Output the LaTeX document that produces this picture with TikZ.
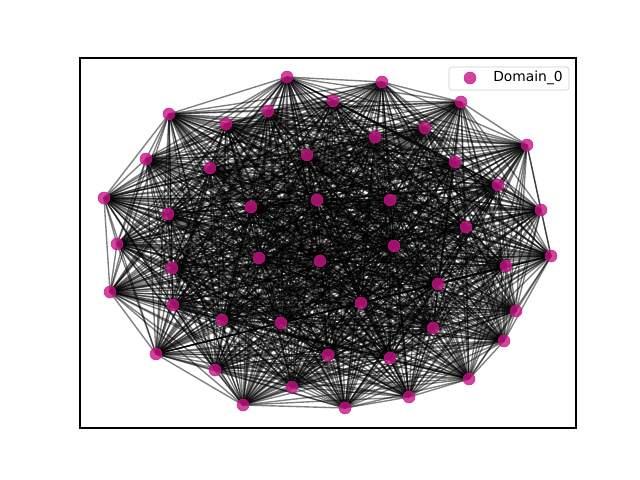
\documentclass[tikz,border=0pt]{standalone}
\usepackage{fontspec}
\setmainfont{DejaVu Sans}
\usepackage{xcolor}
\usepackage{tikz}
\usetikzlibrary{positioning}
\definecolor{domainPink}{RGB}{199,21,133}
\tikzset{
  domainNode/.style={circle,fill=domainPink,draw=domainPink,fill opacity=.8,draw opacity=.8,inner sep=0pt,minimum size=.12in},
  graphEdge/.style={draw=black,draw opacity=.5,line width=1pt}
}
\begin{document}
\begin{tikzpicture}[x=0.01in,y=-0.01in]
  \useasboundingbox (0,0) rectangle (640,480);
  % nodes of Domain_0 (positions in pixels)
  \foreach \name/\px/\py in {
      1/287/77, 2/382/82, 3/333/101, 4/461/102, 5/169/114, 6/268/111,
      7/226/124, 8/425/128, 9/375/137, 10/527/145, 11/307/155, 12/146/159,
      13/455/162, 14/210/168, 15/498/185, 16/104/198, 17/317/200, 18/390/200,
      19/251/207, 20/168/214, 21/541/210, 22/466/227, 23/117/244, 24/394/246,
      25/551/256, 26/259/258, 27/320/261, 28/172/268, 29/506/266, 30/438/284,
      31/110/292, 32/361/303, 33/173/305, 34/516/311, 35/222/320, 36/281/323,
      37/433/328, 38/504/341, 39/156/354, 40/328/355, 41/390/358, 42/215/370,
      43/469/379, 44/292/387, 45/409/397, 46/243/405, 47/345/408}
    \coordinate (n\name) at (\px,\py);
  % edges
  \foreach \i in {1,...,46}{
    \pgfmathtruncatemacro\nextIdx{\i+1}
    \foreach \j in {\nextIdx,...,47}
      \draw[graphEdge] (n\i) -- (n\j);
  }
  \foreach \i in {1,...,47}
    \node[domainNode] (dot\i) at (n\i) {};
  % axes frame
  \draw[line width=.8pt] (80,58) rectangle (576,428);
  % legend
  \draw[draw=black!20,fill=white,fill opacity=.8,rounded corners=2pt] (449,67) rectangle (569,90);
  \node[domainNode] (legendDot) at (470,78) {};
  \node[anchor=west,inner sep=0pt,font=\fontsize{10}{12}\selectfont] (legendText) at (493,78) {Domain\_0};
\end{tikzpicture}
\end{document}
